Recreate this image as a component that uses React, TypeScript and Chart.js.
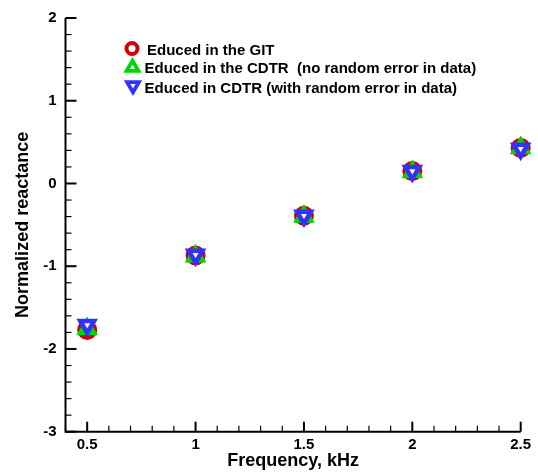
import React, { useEffect, useRef } from "react";
import { Chart, registerables } from "chart.js";

Chart.register(...registerables);

// ---- data ----
const frequencies = [0.5, 1.0, 1.5, 2.0, 2.5];
const gitValues = [-1.77, -0.87, -0.39, 0.15, 0.43];
const cdtrNoErrorValues = [-1.76, -0.88, -0.40, 0.14, 0.43];
const cdtrWithErrorValues = [-1.71, -0.86, -0.39, 0.15, 0.42];

const seriesLabels = [
  "Educed in the GIT",
  "Educed in the CDTR  (no random error in data)",
  "Educed in CDTR (with random error in data)",
];

const xTickValues = [0.5, 1.0, 1.5, 2.0, 2.5];
const xTickLabels = ["0.5", "1", "1.5", "2", "2.5"];
const yTickValues = [-3, -2, -1, 0, 1, 2];
const yTickLabels = ["-3", "-2", "-1", "0", "1", "2"];

const xTitle = "Frequency, kHz";
const yTitle = "Normalized reactance";

const RED = "rgb(210,0,0)";
const GREEN = "rgb(0,215,0)";
const BLUE = "rgb(50,50,255)";
const FONT = '"Liberation Sans", Arial, Helvetica, sans-serif';

function toPoints(values: number[]) {
  return frequencies.map((f, i) => ({ x: f, y: values[i] }));
}

function drawMarker(
  ctx: CanvasRenderingContext2D,
  kind: string,
  x: number,
  y: number,
  r: number,
  lw: number,
  color: string
) {
  ctx.save();
  ctx.beginPath();
  if (kind === "circle") {
    ctx.arc(x, y, r, 0, Math.PI * 2);
  } else {
    let rad = kind === "down" ? Math.PI : 0;
    ctx.moveTo(x + Math.sin(rad) * r, y - Math.cos(rad) * r);
    rad += (2 * Math.PI) / 3;
    ctx.lineTo(x + Math.sin(rad) * r, y - Math.cos(rad) * r);
    rad += (2 * Math.PI) / 3;
    ctx.lineTo(x + Math.sin(rad) * r, y - Math.cos(rad) * r);
    ctx.closePath();
  }
  ctx.fillStyle = "#fff";
  ctx.fill();
  ctx.lineWidth = lw;
  ctx.strokeStyle = color;
  ctx.stroke();
  ctx.restore();
}

const axesPlugin = {
  id: "axesPlugin",
  beforeDatasetsDraw(chart: any) {
    const { ctx, chartArea } = chart;
    const xs = chart.scales.x;
    const ys = chart.scales.y;
    ctx.save();
    ctx.strokeStyle = "#000";
    ctx.lineCap = "butt";
    // y ticks (inward)
    for (let i = 0; i <= 25; i++) {
      const v = ys.min + i * 0.2;
      const py = ys.getPixelForValue(v);
      const major = i % 5 === 0;
      ctx.beginPath();
      ctx.lineWidth = major ? 2 : 1.2;
      ctx.moveTo(chartArea.left, py);
      ctx.lineTo(chartArea.left + (major ? 11 : 6), py);
      ctx.stroke();
    }
    // x ticks (inward)
    for (let i = 0; i <= 21; i++) {
      const v = xs.min + i * 0.1;
      const px = xs.getPixelForValue(v);
      const major = (i + 4) % 5 === 0;
      ctx.beginPath();
      ctx.lineWidth = major ? 2 : 1.2;
      ctx.moveTo(px, chartArea.bottom);
      ctx.lineTo(px, chartArea.bottom - (major ? 10 : 6));
      ctx.stroke();
    }
    // axis lines
    ctx.lineWidth = 2;
    ctx.beginPath();
    ctx.moveTo(chartArea.left, chartArea.top);
    ctx.lineTo(chartArea.left, chartArea.bottom);
    ctx.lineTo(chartArea.right, chartArea.bottom);
    ctx.stroke();
    ctx.restore();
  },
  afterDraw(chart: any) {
    const { ctx, chartArea } = chart;
    ctx.save();
    ctx.fillStyle = "#000";
    // axis titles
    ctx.font = `bold 18px ${FONT}`;
    ctx.textAlign = "center";
    ctx.textBaseline = "alphabetic";
    ctx.fillText(xTitle, (chartArea.left + chartArea.right) / 2, 466);
    ctx.save();
    ctx.translate(28, (chartArea.top + chartArea.bottom) / 2);
    ctx.rotate(-Math.PI / 2);
    ctx.fillText(yTitle, 0, 0);
    ctx.restore();

    // legend
    const kinds = ["circle", "up", "down"];
    const colors = [RED, GREEN, BLUE];
    const markerPos = [
      [132, 48.5],
      [132.5, 67.5],
      [133, 85.5],
    ];
    const textPos = [
      [147, 54.5],
      [144.5, 73],
      [144.5, 92.5],
    ];
    ctx.font = `bold 15px ${FONT}`;
    ctx.textAlign = "left";
    chart.data.datasets.forEach((ds: any, i: number) => {
      if (kinds[i] === "circle") {
        drawMarker(ctx, "circle", markerPos[i][0], markerPos[i][1], 5.5, 4, colors[i]);
      } else {
        drawMarker(ctx, kinds[i], markerPos[i][0], markerPos[i][1], 6.8, 3.8, colors[i]);
      }
      ctx.fillStyle = "#000";
      ctx.fillText(ds.label, textPos[i][0], textPos[i][1]);
    });
    ctx.restore();
  },
};

export default function App() {
  const ref = useRef<HTMLCanvasElement | null>(null);

  useEffect(() => {
    if (!ref.current) return;
    Chart.defaults.font.family = FONT;
    const chart = new Chart(ref.current, {
      type: "scatter",
      data: {
        datasets: [
          {
            label: seriesLabels[0],
            data: toPoints(gitValues),
            order: 2,
            clip: false,
            pointStyle: "circle",
            pointRadius: 7.5,
            pointBorderWidth: 5,
            borderColor: RED,
            backgroundColor: "#fff",
            pointBackgroundColor: "#fff",
            pointBorderColor: RED,
          },
          {
            label: seriesLabels[1],
            data: toPoints(cdtrNoErrorValues),
            order: 1,
            clip: false,
            pointStyle: "triangle",
            pointRadius: 8,
            pointBorderWidth: 4.5,
            borderColor: GREEN,
            backgroundColor: "#fff",
            pointBackgroundColor: "#fff",
            pointBorderColor: GREEN,
          },
          {
            label: seriesLabels[2],
            data: toPoints(cdtrWithErrorValues),
            order: 0,
            clip: false,
            pointStyle: "triangle",
            rotation: 180,
            pointRotation: 180,
            pointRadius: 8,
            pointBorderWidth: 4.5,
            borderColor: BLUE,
            backgroundColor: "#fff",
            pointBackgroundColor: "#fff",
            pointBorderColor: BLUE,
          } as any,
        ],
      },
      options: {
        animation: false,
        responsive: false,
        devicePixelRatio: 1,
        layout: { padding: { top: 15, right: 17.3, left: 0, bottom: 0 } },
        plugins: {
          legend: { display: false },
          tooltip: { enabled: false },
        },
        scales: {
          x: {
            type: "linear",
            min: 0.4,
            max: 2.5,
            grid: { display: false, drawTicks: false },
            border: { display: false },
            afterBuildTicks: (s: any) => {
              s.ticks = xTickValues.map((v) => ({ value: v }));
            },
            afterFit: (s: any) => {
              s.height = 43.3;
            },
            ticks: {
              autoSkip: false,
              maxRotation: 0,
              padding: 4,
              color: "#000",
              font: { size: 15, weight: "bold", family: FONT },
              callback: (_v: any, i: number) => xTickLabels[i],
            },
          },
          y: {
            type: "linear",
            min: -3,
            max: 2,
            grid: { display: false, drawTicks: false },
            border: { display: false },
            afterBuildTicks: (s: any) => {
              s.ticks = yTickValues.map((v) => ({ value: v }));
            },
            afterFit: (s: any) => {
              s.width = 65.5;
            },
            ticks: {
              autoSkip: false,
              padding: 9,
              color: "#000",
              font: { size: 15, weight: "bold", family: FONT },
              callback: (_v: any, i: number) => yTickLabels[i],
            },
          },
        },
      } as any,
      plugins: [axesPlugin],
    });
    return () => chart.destroy();
  }, []);

  return (
    <canvas
      ref={ref}
      width={538}
      height={475}
      style={{ position: "fixed", left: 0, top: 0, width: 538, height: 475 }}
    />
  );
}
